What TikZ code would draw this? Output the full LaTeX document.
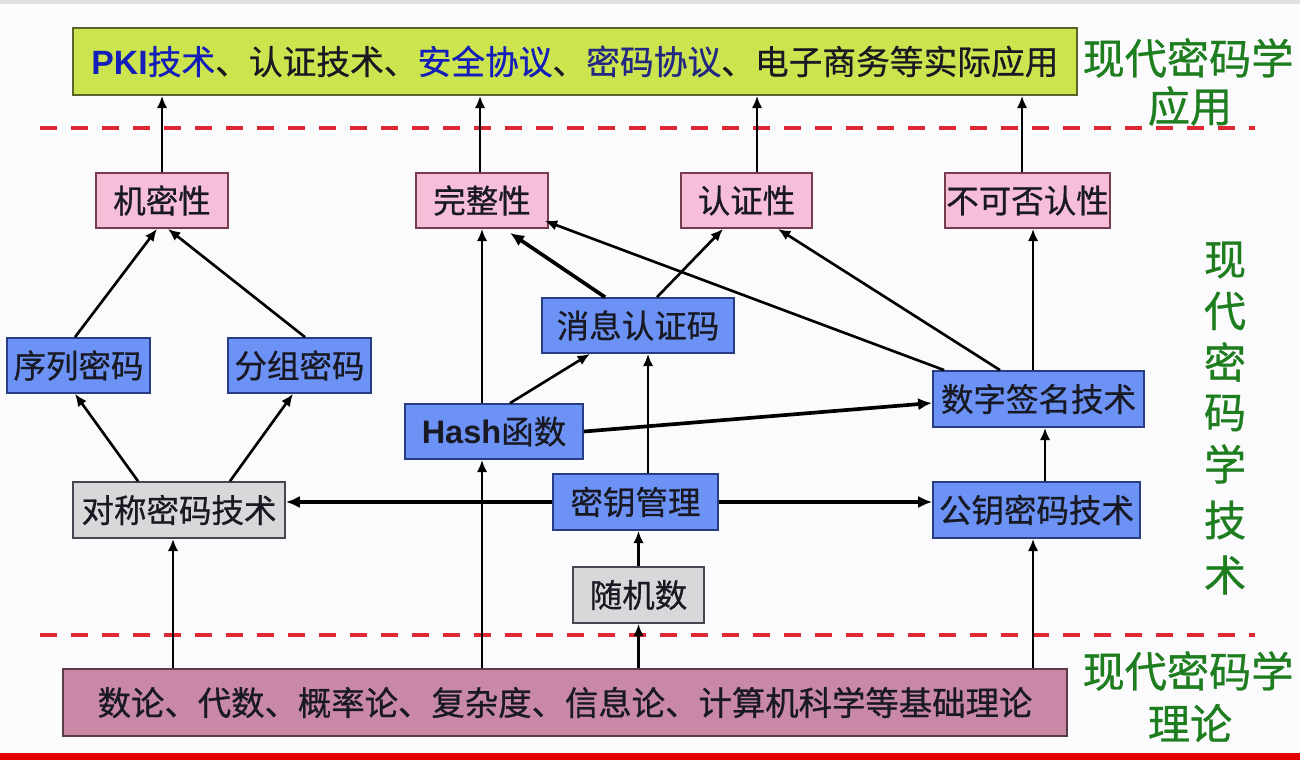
\documentclass[tikz,border=0pt]{standalone}
\usepackage{fontspec}
\setmainfont{Noto Sans CJK SC}
\newfontfamily\boxfont{Noto Sans CJK SC}[FakeBold=0.7]
\newfontfamily\latinbold{Liberation Sans}
\usetikzlibrary{arrows.meta,calc}
\definecolor{topfill}{RGB}{204,228,78}
\definecolor{topdraw}{RGB}{90,100,40}
\definecolor{pinkfill}{RGB}{246,190,216}
\definecolor{pinkdraw}{RGB}{120,60,80}
\definecolor{bluefill}{RGB}{108,146,246}
\definecolor{bluedraw}{RGB}{40,60,130}
\definecolor{greyfill}{RGB}{216,216,218}
\definecolor{greydraw}{RGB}{70,70,80}
\definecolor{basefill}{RGB}{200,136,166}
\definecolor{basedraw}{RGB}{90,60,70}
\definecolor{dashred}{RGB}{222,40,52}
\definecolor{lblgreen}{RGB}{30,125,30}
\definecolor{txtblue}{RGB}{20,30,185}
\definecolor{txtnavy}{RGB}{35,40,130}
\definecolor{txtdark}{RGB}{25,25,35}
\definecolor{bgcol}{RGB}{251,251,253}
\tikzset{
  boxbase/.style={draw, line width=1pt, inner sep=0pt, text=txtdark, font=\boxfont\fontsize{18.5}{20}\selectfont},
  topbox/.style={boxbase, fill=topfill, draw=topdraw, minimum width=20.08cm, minimum height=1.34cm, font=\boxfont\fontsize{19.2}{21}\selectfont},
  pinkbox/.style={boxbase, fill=pinkfill, draw=pinkdraw, minimum height=1.1cm},
  bluebox/.style={boxbase, fill=bluefill, draw=bluedraw, minimum height=1.1cm},
  greybox/.style={boxbase, fill=greyfill, draw=greydraw, minimum height=1.12cm},
  basebox/.style={boxbase, fill=basefill, draw=basedraw, minimum width=20.08cm, minimum height=1.34cm, font=\boxfont\fontsize{19}{21}\selectfont},
  arr/.style={line width=1.5pt, -{Latex[length=7pt,width=6pt]}},
  tarr/.style={line width=2.1pt, -{Latex[length=8pt,width=7pt]}},
  reddash/.style={dashred, line width=2.2pt, dash pattern=on 0.34cm off 0.28cm},
  glabel/.style={text=lblgreen, font=\boxfont\fontsize{24}{26}\selectfont, inner sep=0pt},
}
\begin{document}
\begin{tikzpicture}[x=0.02cm,y=-0.02cm]
\fill[bgcol] (0,0) rectangle (1300,760);
\useasboundingbox (0,0) rectangle (1300,760);
\fill[black!12] (0,0) rectangle (1300,4);
\fill[red!90!black] (0,753) rectangle (1300,760);

% dashed separators
\draw[reddash] (40,128) -- (1255,128);
\draw[reddash] (40,635) -- (1255,635);

% boxes
\node[topbox] (top) at (575,61.5) {{\latinbold\bfseries\color{txtblue}PKI}{\color{txtblue}技术}、认证技术、{\color{txtblue}安全协议}、{\color{txtnavy}密码协议}、电子商务等实际应用};
\node[pinkbox, minimum width=2.64cm] (jm) at (162,200.5) {机密性};
\node[pinkbox, minimum width=2.64cm] (wz) at (482,200.5) {完整性};
\node[pinkbox, minimum width=2.62cm] (rz) at (746.5,200.5) {认证性};
\node[pinkbox, minimum width=3.3cm] (bk) at (1027.5,200.5) {不可否认性};
\node[bluebox, minimum width=2.86cm] (xl) at (78.5,365.5) {序列密码};
\node[bluebox, minimum width=2.86cm] (fz) at (299.5,365.5) {分组密码};
\node[bluebox, minimum width=3.84cm] (mac) at (638,325.5) {消息认证码};
\node[bluebox, minimum width=3.56cm] (hash) at (494,431.5) {{\latinbold\bfseries Hash}函数};
\node[bluebox, minimum width=4.22cm, minimum height=1.12cm] (sig) at (1038.5,399) {数字签名技术};
\node[bluebox, minimum width=3.3cm, minimum height=1.12cm] (key) at (635.5,502) {密钥管理};
\node[bluebox, minimum width=4.14cm, minimum height=1.12cm] (pub) at (1036.5,510) {公钥密码技术};
\node[greybox, minimum width=4.24cm] (sym) at (179,510) {对称密码技术};
\node[greybox, minimum width=2.62cm] (rnd) at (638.5,595) {随机数};
\node[basebox] (base) at (565,702.5) {数论、代数、概率论、复杂度、信息论、计算机科学等基础理论};

% labels on the right
\node[glabel] (l1) at (1188,58) {现代密码学};
\node[glabel] (l2) at (1190,106) {应用};
\node[glabel] (v1) at (1225,260) {现};
\node[glabel] (v2) at (1225,311) {代};
\node[glabel] (v3) at (1225,362) {密};
\node[glabel] (v4) at (1225,413) {码};
\node[glabel] (v5) at (1225,464) {学};
\node[glabel] (v6) at (1225,520) {技};
\node[glabel] (v7) at (1225,575) {术};
\node[glabel] (l3) at (1188,671) {现代密码学};
\node[glabel] (l4) at (1190,723) {理论};

% arrows to top application box
\draw[arr] (jm.north) -- (jm.north |- top.south);
\draw[arr] ($(wz.north)+(-2,0)$) coordinate (w1) -- (w1 |- top.south);
\draw[arr] ($(rz.north)+(10.5,0)$) coordinate (r1) -- (r1 |- top.south);
\draw[arr] ($(bk.north)+(-5.5,0)$) coordinate (b1) -- (b1 |- top.south);

% confidentiality
\draw[arr] ($(xl.north)+(-3.5,0)$) -- ($(jm.south)+(-5,0)$);
\draw[arr] ($(fz.north)+(5.5,0)$) -- ($(jm.south)+(6,0)$);
\draw[arr] ($(sym.north)+(-41,0)$) -- ($(xl.south)+(-3.5,0)$);
\draw[arr] ($(sym.north)+(51,0)$) -- ($(fz.south)+(-6.5,0)$);
\coordinate (a1) at ($(sym.south)+(-6,0)$);
\draw[arr] (a1 |- base.north) -- (a1);

% hash / integrity
\draw[arr] (wz.south |- base.north) -- (wz.south |- hash.south);
\draw[arr] (wz.south |- hash.north) -- (wz.south);
\draw[arr] ($(hash.north)+(16,0)$) -- ($(mac.south)+(-48,0)$);
\draw[tarr] ($(mac.north)+(-33,0)$) -- ($(wz.south)+(28,4)$);
\draw[arr] ($(mac.north)+(19,0)$) -- ($(rz.south)+(-23.5,0)$);
\coordinate (k1) at ($(key.north)+(12.5,0)$);
\draw[arr] (k1) -- (k1 |- mac.south);

% digital signature
\draw[arr] ($(sig.north west)+(12,0)$) -- ($(wz.south east)+(-4,-8)$);
\draw[arr] ($(sig.north)+(-38.5,0)$) -- ($(rz.south)+(31.5,0)$);
\coordinate (s1) at ($(sig.north)+(-5.5,0)$);
\draw[arr] (s1) -- (s1 |- bk.south);
\draw[tarr] (hash.east) -- ($(sig.west)+(0,4)$);

% key management
\draw[tarr] (key.west) -- (key.west -| sym.east);
\draw[tarr] (key.east) -- (key.east -| pub.west);
\coordinate (p1) at ($(pub.north)+(8.5,0)$);
\draw[arr] (p1) -- (p1 |- sig.south);
\coordinate (p2) at ($(pub.south)+(-3.5,0)$);
\draw[arr] (p2 |- base.north) -- (p2);
\draw[arr] (rnd.north) -- (rnd.north |- key.south);
\draw[arr] (rnd.south |- base.north) -- (rnd.south);
\end{tikzpicture}
\end{document}
